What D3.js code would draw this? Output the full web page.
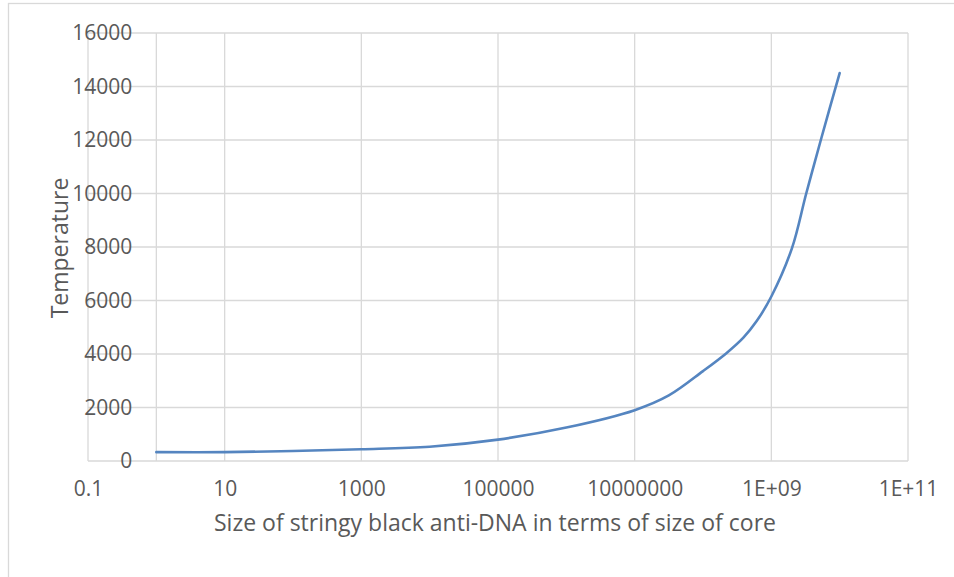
<!DOCTYPE html>
<html>
<head>
  <meta charset="UTF-8">
  <title>Temperature vs size</title>
  <style>
    body { margin: 0; background: #fff; }
    text { font-family: "Open Sans", sans-serif; fill: #595959; }
    .grid line { stroke: #d9d9d9; stroke-width: 1.3; }
    .axis path, .axis line { display: none; }
  </style>
</head>
<body>
<svg id="chart"></svg>
<script src="https://d3js.org/d3.v7.min.js"></script>
<script>

// values
var sizes = [1, 10, 100, 1000, 1e4, 1e5, 1e6, 1e7, 3.16e7, 1e8, 2.2e8, 3.9e8, 6.1e8, 1e9, 2e9, 3.24e9, 5.3e9, 1e10];
var temps = [330, 330, 375, 440, 535, 800, 1250, 1900, 2450, 3360, 4030, 4610, 5230, 6150, 7950, 10000, 12000, 14500];

var xTicks = [0.1, 10, 1000, 100000, 10000000, 1e9, 1e11];
var xTickLabels = ["0.1", "10", "1000", "100000", "10000000", "1E+09", "1E+11"];
var yTicks = [0, 2000, 4000, 6000, 8000, 10000, 12000, 14000, 16000];

var width = 954, height = 577;
var svg = d3.select("#chart").attr("width", width).attr("height", height);

// outer chart border (runs off the right / bottom)
svg.append("rect")
    .attr("x", 8.5).attr("y", 3.5)
    .attr("width", width + 20).attr("height", height + 20)
    .attr("fill", "none").attr("stroke", "#d9d9d9").attr("stroke-width", 1.3);

var x = d3.scaleLog().domain([0.1, 1e11]).range([88, 908]);
var y = d3.scaleLinear().domain([0, 16000]).range([461, 33]);

// gridlines
var grid = svg.append("g").attr("class", "grid");
grid.selectAll("line.h")
    .data(yTicks)
    .enter()
    .append("line")
    .attr("class", "h")
    .attr("x1", x(0.1)).attr("x2", x(1e11))
    .attr("y1", function(d){ return y(d) }).attr("y2", function(d){ return y(d) });
grid.selectAll("line.v")
    .data(xTicks)
    .enter()
    .append("line")
    .attr("class", "v")
    .attr("x1", function(d){ return x(d) }).attr("x2", function(d){ return x(d) })
    .attr("y1", y(0)).attr("y2", y(16000));
// vertical axis crosses at 1
grid.append("line")
    .attr("x1", x(1)).attr("x2", x(1))
    .attr("y1", y(0)).attr("y2", y(16000));

// axes (labels only)
svg.append("g")
    .attr("class", "axis")
    .attr("transform", "translate(0," + y(0) + ")")
    .call(d3.axisBottom(x).tickValues(xTicks).tickSize(0).tickPadding(20)
        .tickFormat(function(d, i){ return xTickLabels[i] }))
    .selectAll("text")
    .style("font-size", "21px");

svg.append("g")
    .attr("class", "axis")
    .attr("transform", "translate(" + x(1) + ",0)")
    .call(d3.axisLeft(y).tickValues(yTicks).tickSize(0).tickPadding(24)
        .tickFormat(d3.format("d")))
    .selectAll("text")
    .style("font-size", "21px");

// the curve (smoothed like the spreadsheet line)
var line = d3.line()
    .x(function(d, i){ return x(sizes[i]) })
    .y(function(d){ return y(d) })
    .curve(d3.curveCatmullRom.alpha(0.5));

svg.append("path")
    .datum(temps)
    .attr("d", line)
    .attr("fill", "none")
    .attr("stroke", "#5585c0")
    .attr("stroke-width", 2.6)
    .attr("stroke-linecap", "round");

// axis titles
svg.append("text")
    .attr("x", 495).attr("y", 531)
    .attr("text-anchor", "middle")
    .style("font-size", "23px")
    .text("Size of stringy black anti-DNA in terms of size of core");

svg.append("text")
    .attr("transform", "translate(68,248) rotate(-90)")
    .attr("text-anchor", "middle")
    .style("font-size", "23px")
    .text("Temperature");

</script>
</body>
</html>
